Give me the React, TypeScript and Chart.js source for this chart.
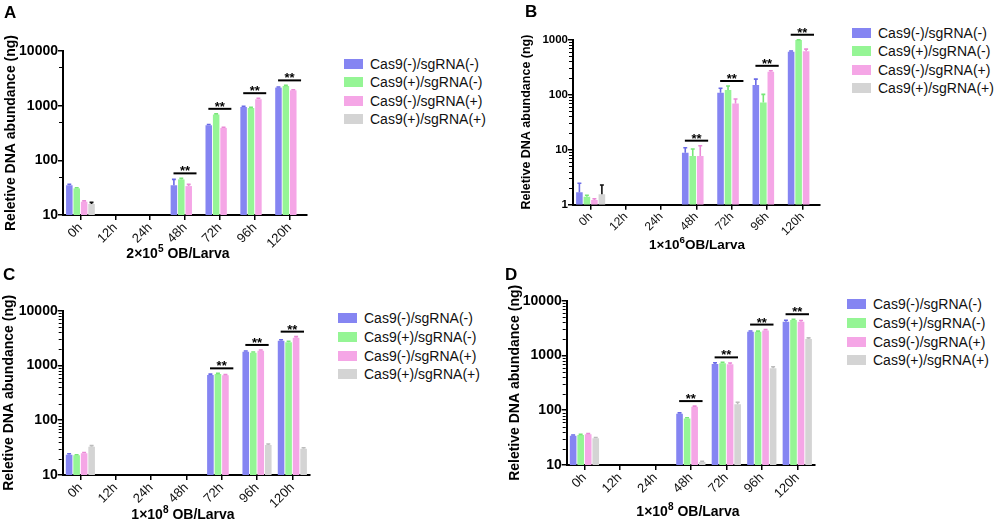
import { useEffect, useRef } from "react";
import { Chart, registerables } from "chart.js";

Chart.register(...registerables);

const FONT = '"Liberation Sans", Arial, Helvetica, sans-serif';
Chart.defaults.font.family = FONT;
Chart.defaults.color = "#000";

// shared categories / groups
const timePoints = ["0h", "12h", "24h", "48h", "72h", "96h", "120h"];
const groupNames = [
  "Cas9(-)/sgRNA(-)",
  "Cas9(+)/sgRNA(-)",
  "Cas9(-)/sgRNA(+)",
  "Cas9(+)/sgRNA(+)",
];
const barColors = ["#8585f2", "#95f595", "#f5a6e6", "#d4d4d4"];
const errColors = ["#6a6ae6", "#78e678", "#ea8ad6", "#bcbcbc"];

// A: 2x10^5 OB/Larva
const aNegNeg = [35, null, null, 35, 438, 946, 2140];
const aPosNeg = [30.7, null, null, 44.8, 689, 907, 2290];
const aNegPos = [17.5, null, null, 33.8, 392, 1310, 1910];
const aPosPos = [15.9, null, null, null, null, null, null];
const aNegNegErr = [1.5, 0, 0, 9.8, 15, 30, 60];
const aPosNegErr = [0.8, 0, 0, 2, 20, 25, 60];
const aNegPosErr = [0.6, 0, 0, 2.5, 10, 60, 50];
const aPosPosErr = [1.1, 0, 0, 0, 0, 0, 0];
const aSig = ["", "", "", "**", "**", "**", "**"];

// B: 1x10^6 OB/Larva
const bNegNeg = [1.68, null, null, 8.8, 108, 149, 598];
const bPosNeg = [1.4, null, null, 7.65, 121, 72, 975];
const bNegPos = [1.22, null, null, 7.65, 69, 259, 615];
const bPosPos = [1.54, null, null, null, null, null, null];
const bNegNegErr = [0.77, 0, 0, 2.0, 22, 42, 20];
const bPosNegErr = [0.08, 0, 0, 2.65, 22, 29, 15];
const bNegPosErr = [0.06, 0, 0, 4.15, 14, 11, 55];
const bPosPosErr = [0.74, 0, 0, 0, 0, 0, 0];
const bSig = ["", "", "", "**", "**", "**", "**"];

// C: 1x10^8 OB/Larva
const cNegNeg = [23.5, null, null, null, 670, 1780, 2830];
const cPosNeg = [22.9, null, null, null, 698, 1710, 2650];
const cNegPos = [24.9, null, null, null, 661, 1860, 3210];
const cPosPos = [32.9, null, null, null, null, 35.3, 30.2];
const cNegNegErr = [1, 0, 0, 0, 25, 60, 120];
const cPosNegErr = [0.5, 0, 0, 0, 20, 50, 120];
const cNegPosErr = [0.8, 0, 0, 0, 20, 60, 150];
const cPosPosErr = [1.5, 0, 0, 0, 0, 1.5, 1.2];
const cSig = ["", "", "", "", "**", "**", "**"];

// D: 1x10^8 OB/Larva
const dNegNeg = [34.3, null, null, 86.5, 698, 2720, 4140];
const dPosNeg = [35.3, null, null, 71, 718, 2720, 4440];
const dNegPos = [36.4, null, null, 116, 688, 2870, 4140];
const dPosPos = [30.7, null, null, 11.3, 128, 583, 1995];
const dNegNegErr = [1, 0, 0, 3, 40, 80, 250];
const dPosNegErr = [1, 0, 0, 2, 30, 60, 150];
const dNegPosErr = [1, 0, 0, 3, 40, 100, 200];
const dPosPosErr = [1, 0, 0, 0.4, 12, 40, 100];
const dSig = ["", "", "", "**", "**", "**", "**"];

const ticks10to10000 = [10, 100, 1000, 10000];
const ticks1to1000 = [1, 10, 100, 1000];
const allMinor = [2, 3, 4, 5, 6, 7, 8, 9];

type PanelCfg = {
  letter: string;
  left: number;
  top: number;
  width: number;
  height: number;
  area: { l: number; r: number; t: number; b: number };
  yTitleX: number;
  xTitleX: number;
  xTitleY: number;
  xTitle: [string, string, string];
  series: (number | null)[][];
  errors: number[][];
  sig: string[];
  yMajor: number[];
  yMinor: number[];
  errColors: string[];
  tickFont: number;
  yTickFont: number;
  yTitleFont: number;
  xTitleFont: number;
  legend: { x: number; y: number; step: number };
  letterPos: { x: number; y: number };
};

const panels: PanelCfg[] = [
  {
    letter: "A",
    left: 0, top: 0, width: 330, height: 265,
    area: { l: 63, r: 307, t: 51, b: 215 },
    yTitleX: 11, xTitleX: 178, xTitleY: 253,
    xTitle: ["2×10", "5", " OB/Larva"],
    series: [aNegNeg, aPosNeg, aNegPos, aPosPos],
    errors: [aNegNegErr, aPosNegErr, aNegPosErr, aPosPosErr],
    sig: aSig,
    yMajor: ticks10to10000, yMinor: [5],
    errColors: [errColors[0], errColors[1], errColors[2], "#111"],
    tickFont: 13, yTickFont: 14, yTitleFont: 14, xTitleFont: 14,
    legend: { x: 344, y: 63.8, step: 18.5 },
    letterPos: { x: 4, y: 4 },
  },
  {
    letter: "B",
    left: 500, top: 0, width: 330, height: 265,
    area: { l: 573, r: 820, t: 39.5, b: 204.7 },
    yTitleX: 527, xTitleX: 697, xTitleY: 245,
    xTitle: ["1×10", "6", "OB/Larva"],
    series: [bNegNeg, bPosNeg, bNegPos, bPosPos],
    errors: [bNegNegErr, bPosNegErr, bNegPosErr, bPosPosErr],
    sig: bSig,
    yMajor: ticks1to1000, yMinor: allMinor,
    errColors: [errColors[0], errColors[1], errColors[2], "#111"],
    tickFont: 12, yTickFont: 11.5, yTitleFont: 12.5, xTitleFont: 13.5,
    legend: { x: 852, y: 32.7, step: 18.5 },
    letterPos: { x: 525, y: 3 },
  },
  {
    letter: "C",
    left: 0, top: 265, width: 330, height: 266,
    area: { l: 62.7, r: 310, t: 310.7, b: 475 },
    yTitleX: 9, xTitleX: 183, xTitleY: 514,
    xTitle: ["1×10", "8", " OB/Larva"],
    series: [cNegNeg, cPosNeg, cNegPos, cPosPos],
    errors: [cNegNegErr, cPosNegErr, cNegPosErr, cPosPosErr],
    sig: cSig,
    yMajor: ticks10to10000, yMinor: allMinor,
    errColors,
    tickFont: 13, yTickFont: 14, yTitleFont: 14, xTitleFont: 14,
    legend: { x: 338, y: 318.3, step: 18.7 },
    letterPos: { x: 3, y: 266 },
  },
  {
    letter: "D",
    left: 500, top: 265, width: 330, height: 266,
    area: { l: 566.7, r: 815, t: 300.7, b: 465 },
    yTitleX: 514.7, xTitleX: 688, xTitleY: 511,
    xTitle: ["1×10", "8", " OB/Larva"],
    series: [dNegNeg, dPosNeg, dNegPos, dPosPos],
    errors: [dNegNegErr, dPosNegErr, dNegPosErr, dPosPosErr],
    sig: dSig,
    yMajor: ticks10to10000, yMinor: allMinor,
    errColors,
    tickFont: 13, yTickFont: 14, yTitleFont: 14, xTitleFont: 14,
    legend: { x: 847, y: 304.3, step: 18.6 },
    letterPos: { x: 505, y: 266 },
  },
];

// error bars, significance marks and minor log ticks
function makeExtras(cfg: PanelCfg) {
  return {
    id: "extras" + cfg.letter,
    afterDatasetsDraw(chart: any) {
      const { ctx } = chart;
      const y = chart.scales.y;
      ctx.save();
      chart.data.datasets.forEach((ds: any, di: number) => {
        const meta = chart.getDatasetMeta(di);
        meta.data.forEach((bar: any, i: number) => {
          const v = ds.data[i];
          const e = cfg.errors[di][i];
          if (v == null || !e) return;
          const top = y.getPixelForValue(v + e);
          const cap = bar.width * 0.6;
          ctx.strokeStyle = cfg.errColors[di];
          ctx.lineWidth = 1.6;
          ctx.beginPath();
          ctx.moveTo(bar.x, bar.y);
          ctx.lineTo(bar.x, top);
          ctx.moveTo(bar.x - cap / 2, top);
          ctx.lineTo(bar.x + cap / 2, top);
          ctx.stroke();
        });
      });
      ctx.restore();
    },
    afterDraw(chart: any) {
      const { ctx, chartArea } = chart;
      const x = chart.scales.x;
      const y = chart.scales.y;
      ctx.save();
      const step = (chartArea.right - chartArea.left) / timePoints.length;
      cfg.sig.forEach((mark, i) => {
        if (!mark) return;
        let topPx = Infinity;
        cfg.series.forEach((s, di) => {
          const v = s[i];
          if (v == null) return;
          topPx = Math.min(topPx, y.getPixelForValue(v + (cfg.errors[di][i] || 0)));
        });
        const cx = x.getPixelForValue(i);
        const ly = topPx - 5;
        ctx.strokeStyle = "#000";
        ctx.lineWidth = 2;
        ctx.beginPath();
        ctx.moveTo(cx - step * 0.33, ly);
        ctx.lineTo(cx + step * 0.33, ly);
        ctx.stroke();
        ctx.fillStyle = "#000";
        ctx.font = `bold 13px ${FONT}`;
        ctx.textAlign = "center";
        ctx.textBaseline = "alphabetic";
        ctx.fillText(mark, cx, ly + 2);
      });
      // minor ticks on the log axis
      ctx.strokeStyle = "#000";
      ctx.lineWidth = 1;
      const lo = cfg.yMajor[0];
      const hi = cfg.yMajor[cfg.yMajor.length - 1];
      for (let d = lo; d < hi; d *= 10) {
        cfg.yMinor.forEach((m) => {
          const py = Math.round(y.getPixelForValue(d * m)) + 0.5;
          ctx.beginPath();
          ctx.moveTo(chartArea.left - 1, py);
          ctx.lineTo(chartArea.left - 4, py);
          ctx.stroke();
        });
      }
      ctx.restore();
    },
  };
}

function Panel({ cfg }: { cfg: PanelCfg }) {
  const canvasRef = useRef<HTMLCanvasElement>(null);
  const chartRef = useRef<Chart | null>(null);

  useEffect(() => {
    if (!canvasRef.current) return;
    if (chartRef.current) chartRef.current.destroy();

    const a = {
      l: cfg.area.l - cfg.left,
      r: cfg.area.r - cfg.left,
      t: cfg.area.t - cfg.top,
      b: cfg.area.b - cfg.top,
    };
    const yLh = cfg.yTitleFont * 1.2;
    const padLeft = Math.max(0, cfg.yTitleX - cfg.left - yLh / 2);
    const yWidth = a.l - padLeft;
    const padBottom = 4;
    const xHeight = cfg.height - padBottom - a.b;

    chartRef.current = new Chart(canvasRef.current, {
      type: "bar",
      data: {
        labels: timePoints,
        datasets: cfg.series.map((s, i) => ({
          label: groupNames[i],
          data: s,
          backgroundColor: barColors[i],
          borderWidth: 0,
          categoryPercentage: 0.85,
          barPercentage: 0.88,
        })),
      },
      options: {
        responsive: false,
        animation: false,
        layout: {
          padding: { left: padLeft, right: cfg.width - a.r, top: a.t, bottom: padBottom },
        },
        plugins: {
          legend: { display: false },
          tooltip: { enabled: false },
        },
        scales: {
          x: {
            type: "category",
            offset: true,
            grid: {
              offset: false,
              drawOnChartArea: false,
              drawTicks: true,
              tickLength: 5,
              tickColor: "#000",
              lineWidth: 1.5,
            },
            border: { display: true, width: 2, color: "#000" },
            ticks: {
              autoSkip: false,
              minRotation: 45,
              maxRotation: 45,
              padding: 0,
              color: "#111",
              font: { size: cfg.tickFont },
            },
            title: { display: false },
            afterFit: (s: any) => {
              s.height = xHeight;
            },
          },
          y: {
            type: "logarithmic",
            min: cfg.yMajor[0],
            max: cfg.yMajor[cfg.yMajor.length - 1],
            grid: {
              drawOnChartArea: false,
              drawTicks: true,
              tickLength: 5,
              tickColor: "#000",
              lineWidth: 1.5,
            },
            border: { display: true, width: 2, color: "#000" },
            afterBuildTicks: (s: any) => {
              s.ticks = cfg.yMajor.map((value) => ({ value }));
            },
            ticks: {
              autoSkip: false,
              padding: 0,
              color: "#000",
              font: { size: cfg.yTickFont, weight: "bold" },
              callback: (v: any) => String(v),
            },
            title: {
              display: true,
              text: "Reletive DNA abundance (ng)",
              padding: 0,
              color: "#000",
              font: { size: cfg.yTitleFont, weight: "bold" },
            },
            afterFit: (s: any) => {
              s.width = yWidth;
            },
          },
        },
      },
      plugins: [makeExtras(cfg)],
    } as any);

    return () => {
      if (chartRef.current) {
        chartRef.current.destroy();
        chartRef.current = null;
      }
    };
  }, [cfg]);

  const lh = Math.round(cfg.xTitleFont * 1.2);

  return (
    <>
      <canvas
        ref={canvasRef}
        width={cfg.width}
        height={cfg.height}
        style={{ position: "absolute", left: cfg.left, top: cfg.top }}
      />
      <div
        style={{
          position: "absolute",
          left: cfg.letterPos.x,
          top: cfg.letterPos.y,
          fontSize: 17,
          lineHeight: "17px",
          fontWeight: "bold",
          color: "#000",
        }}
      >
        {cfg.letter}
      </div>
      <div
        style={{
          position: "absolute",
          left: cfg.xTitleX - 120,
          width: 240,
          top: cfg.xTitleY - lh / 2,
          lineHeight: `${lh}px`,
          textAlign: "center",
          fontSize: cfg.xTitleFont,
          fontWeight: "bold",
          whiteSpace: "pre",
          color: "#000",
        }}
      >
        {cfg.xTitle[0]}
        <span style={{ fontSize: cfg.xTitleFont * 0.72, position: "relative", top: -6 }}>
          {cfg.xTitle[1]}
        </span>
        {cfg.xTitle[2]}
      </div>
      {groupNames.map((name, i) => (
        <div
          key={name}
          style={{
            position: "absolute",
            left: cfg.legend.x,
            top: cfg.legend.y + i * cfg.legend.step - 9,
            height: 18,
            display: "flex",
            alignItems: "center",
            whiteSpace: "nowrap",
            fontSize: 14,
            color: "#111",
          }}
        >
          <span
            style={{
              display: "inline-block",
              width: 19,
              height: 10,
              background: barColors[i],
              marginRight: 7,
            }}
          />
          <span>{name}</span>
        </div>
      ))}
    </>
  );
}

export default function App() {
  return (
    <div
      style={{
        position: "fixed",
        left: 0,
        top: 0,
        width: 1000,
        height: 531,
        background: "#fff",
        fontFamily: FONT,
        overflow: "hidden",
      }}
    >
      {panels.map((p) => (
        <Panel key={p.letter} cfg={p} />
      ))}
    </div>
  );
}
